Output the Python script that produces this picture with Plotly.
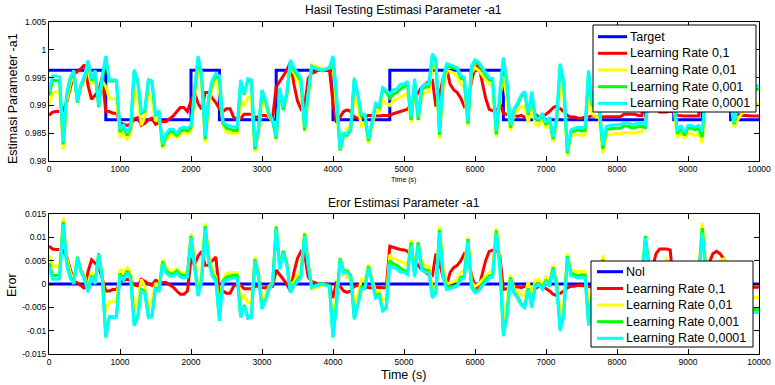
import plotly.graph_objects as go

# ---------------- data ----------------
time_s = list(range(0, 10001, 50))

target_time = [0, 800, 2000, 2400, 3200, 4000, 4800, 6400, 8400, 8800, 9200, 9600, 10000]
target_value = [0.9963, 0.9874, 0.9963, 0.9874, 0.9963, 0.9874, 0.9963, 0.9874,
                0.9963, 0.9874, 0.9963, 0.9874, 0.9874]

nol_time = [0, 10000]
nol_value = [0.0, 0.0]

series_names = ["Learning Rate 0,1", "Learning Rate 0,01", "Learning Rate 0,001", "Learning Rate 0,0001"]

est_lr_0_1 = [
    0.9882, 0.9888, 0.9889, 0.9889, 0.9891, 0.9906, 0.9931, 0.9956, 0.9961, 0.9966,
    0.9973, 0.9936, 0.9911, 0.9919, 0.9926, 0.9951, 0.9889, 0.9889, 0.9886, 0.9886,
    0.9869, 0.9866, 0.9864, 0.9866, 0.9876, 0.9878, 0.9864, 0.9868, 0.9874, 0.9877,
    0.9866, 0.9869, 0.9871, 0.9871, 0.9876, 0.9881, 0.9889, 0.9896, 0.9896, 0.9889,
    0.9908, 0.9923, 0.9903, 0.9893, 0.9923, 0.9923, 0.9913, 0.9905, 0.9894, 0.9889,
    0.9894, 0.9894, 0.9879, 0.9874, 0.9877, 0.9884, 0.9884, 0.9884, 0.9879, 0.9879,
    0.9882, 0.9882, 0.9879, 0.9879, 0.9933, 0.9943, 0.9953, 0.9963, 0.9978, 0.9938,
    0.9908, 0.9893, 0.9898, 0.9948, 0.9958, 0.9960, 0.9965, 0.9963, 0.9963, 0.9965,
    0.9904, 0.9869, 0.9879, 0.9889, 0.9892, 0.9889, 0.9879, 0.9877, 0.9877, 0.9879,
    0.9882, 0.9882, 0.9881, 0.9881, 0.9882, 0.9882, 0.9882, 0.9885, 0.9887, 0.9889,
    0.9890, 0.9893, 0.9903, 0.9913, 0.9923, 0.9933, 0.9938, 0.9943, 0.9945, 0.9898,
    0.9918, 0.9948, 0.9966, 0.9938, 0.9928, 0.9923, 0.9913, 0.9898, 0.9903, 0.9943,
    0.9968, 0.9973, 0.9943, 0.9913, 0.9893, 0.9891, 0.9888, 0.9903, 0.9886, 0.9884,
    0.9879, 0.9882, 0.9880, 0.9882, 0.9879, 0.9879, 0.9889, 0.9884, 0.9879, 0.9879,
    0.9884, 0.9889, 0.9896, 0.9899, 0.9894, 0.9889, 0.9882, 0.9879, 0.9879, 0.9877,
    0.9877, 0.9879, 0.9879, 0.9882, 0.9879, 0.9879, 0.9879, 0.9880, 0.9880, 0.9880,
    0.9880, 0.9880, 0.9884, 0.9884, 0.9884, 0.9884, 0.9882, 0.9882, 0.9933, 0.9943,
    0.9928, 0.9898, 0.9888, 0.9888, 0.9888, 0.9890, 0.9888, 0.9882, 0.9881, 0.9881,
    0.9881, 0.9881, 0.9881, 0.9881, 0.9943, 0.9943, 0.9918, 0.9898, 0.9893, 0.9898,
    0.9908, 0.9923, 0.9904, 0.9889, 0.9884, 0.9882, 0.9882, 0.9881, 0.9881, 0.9881,
    0.9881]

est_lr_0_01 = [
    0.9901, 0.9923, 0.9925, 0.9923, 0.9821, 0.9908, 0.9938, 0.9958, 0.9910, 0.9933,
    0.9945, 0.9971, 0.9938, 0.9953, 0.9903, 0.9943, 0.9934, 0.9912, 0.9912, 0.9912,
    0.9842, 0.9849, 0.9839, 0.9849, 0.9929, 0.9912, 0.9864, 0.9879, 0.9924, 0.9910,
    0.9872, 0.9879, 0.9822, 0.9839, 0.9846, 0.9846, 0.9842, 0.9849, 0.9851, 0.9849,
    0.9855, 0.9908, 0.9968, 0.9938, 0.9833, 0.9903, 0.9933, 0.9948, 0.9924, 0.9864,
    0.9852, 0.9850, 0.9850, 0.9850, 0.9909, 0.9899, 0.9914, 0.9914, 0.9816, 0.9850,
    0.9909, 0.9899, 0.9879, 0.9871, 0.9839, 0.9925, 0.9893, 0.9918, 0.9968, 0.9958,
    0.9945, 0.9931, 0.9853, 0.9913, 0.9973, 0.9971, 0.9968, 0.9966, 0.9966, 0.9968,
    0.9969, 0.9894, 0.9818, 0.9844, 0.9859, 0.9864, 0.9914, 0.9899, 0.9864, 0.9869,
    0.9832, 0.9864, 0.9890, 0.9889, 0.9909, 0.9904, 0.9900, 0.9908, 0.9911, 0.9914,
    0.9918, 0.9923, 0.9868, 0.9931, 0.9873, 0.9918, 0.9923, 0.9925, 0.9973, 0.9968,
    0.9840, 0.9928, 0.9963, 0.9961, 0.9958, 0.9953, 0.9938, 0.9933, 0.9863, 0.9958,
    0.9968, 0.9963, 0.9955, 0.9945, 0.9938, 0.9933, 0.9843, 0.9913, 0.9954, 0.9909,
    0.9854, 0.9884, 0.9890, 0.9897, 0.9899, 0.9869, 0.9899, 0.9866, 0.9864, 0.9876,
    0.9859, 0.9869, 0.9834, 0.9869, 0.9934, 0.9918, 0.9809, 0.9844, 0.9846, 0.9848,
    0.9846, 0.9847, 0.9929, 0.9884, 0.9879, 0.9879, 0.9813, 0.9846, 0.9848, 0.9849,
    0.9849, 0.9849, 0.9851, 0.9851, 0.9850, 0.9850, 0.9852, 0.9852, 0.9873, 0.9918,
    0.9923, 0.9928, 0.9933, 0.9923, 0.9910, 0.9923, 0.9899, 0.9842, 0.9849, 0.9842,
    0.9849, 0.9849, 0.9846, 0.9849, 0.9832, 0.9913, 0.9923, 0.9923, 0.9918, 0.9913,
    0.9909, 0.9918, 0.9909, 0.9860, 0.9874, 0.9884, 0.9892, 0.9897, 0.9901, 0.9903,
    0.9903]

est_lr_0_001 = [
    0.9918, 0.9945, 0.9945, 0.9943, 0.9830, 0.9918, 0.9947, 0.9961, 0.9905, 0.9935,
    0.9950, 0.9978, 0.9945, 0.9960, 0.9897, 0.9948, 0.9986, 0.9944, 0.9944, 0.9944,
    0.9852, 0.9862, 0.9846, 0.9859, 0.9961, 0.9944, 0.9886, 0.9890, 0.9944, 0.9942,
    0.9883, 0.9886, 0.9826, 0.9846, 0.9852, 0.9852, 0.9846, 0.9854, 0.9856, 0.9854,
    0.9860, 0.9920, 0.9985, 0.9953, 0.9839, 0.9913, 0.9942, 0.9953, 0.9949, 0.9868,
    0.9859, 0.9857, 0.9855, 0.9855, 0.9943, 0.9919, 0.9945, 0.9943, 0.9821, 0.9855,
    0.9926, 0.9908, 0.9883, 0.9872, 0.9840, 0.9928, 0.9892, 0.9920, 0.9979, 0.9964,
    0.9953, 0.9944, 0.9855, 0.9920, 0.9969, 0.9966, 0.9964, 0.9962, 0.9965, 0.9967,
    0.9987, 0.9914, 0.9819, 0.9847, 0.9846, 0.9856, 0.9947, 0.9919, 0.9881, 0.9881,
    0.9836, 0.9866, 0.9901, 0.9896, 0.9929, 0.9924, 0.9913, 0.9920, 0.9923, 0.9929,
    0.9934, 0.9939, 0.9874, 0.9943, 0.9874, 0.9928, 0.9933, 0.9934, 0.9990, 0.9980,
    0.9847, 0.9943, 0.9972, 0.9970, 0.9968, 0.9965, 0.9949, 0.9946, 0.9867, 0.9968,
    0.9979, 0.9975, 0.9965, 0.9954, 0.9946, 0.9943, 0.9848, 0.9921, 0.9983, 0.9940,
    0.9860, 0.9892, 0.9901, 0.9916, 0.9922, 0.9883, 0.9922, 0.9876, 0.9873, 0.9883,
    0.9865, 0.9876, 0.9839, 0.9876, 0.9972, 0.9940, 0.9814, 0.9851, 0.9854, 0.9856,
    0.9854, 0.9855, 0.9959, 0.9901, 0.9896, 0.9896, 0.9822, 0.9856, 0.9858, 0.9859,
    0.9859, 0.9859, 0.9863, 0.9863, 0.9860, 0.9860, 0.9862, 0.9862, 0.9860, 0.9923,
    0.9933, 0.9938, 0.9943, 0.9943, 0.9943, 0.9943, 0.9919, 0.9849, 0.9859, 0.9846,
    0.9859, 0.9859, 0.9856, 0.9859, 0.9843, 0.9928, 0.9938, 0.9943, 0.9938, 0.9938,
    0.9933, 0.9933, 0.9934, 0.9866, 0.9899, 0.9909, 0.9919, 0.9924, 0.9927, 0.9929,
    0.9929]

est_lr_0_0001 = [
    0.9925, 0.9953, 0.9953, 0.9951, 0.9835, 0.9923, 0.9951, 0.9963, 0.9907, 0.9938,
    0.9953, 0.9981, 0.9948, 0.9963, 0.9899, 0.9953, 0.9989, 0.9946, 0.9946, 0.9945,
    0.9856, 0.9866, 0.9850, 0.9864, 0.9964, 0.9946, 0.9889, 0.9893, 0.9946, 0.9944,
    0.9885, 0.9889, 0.9830, 0.9850, 0.9857, 0.9857, 0.9850, 0.9859, 0.9861, 0.9859,
    0.9864, 0.9924, 0.9989, 0.9957, 0.9844, 0.9917, 0.9946, 0.9957, 0.9953, 0.9871,
    0.9865, 0.9863, 0.9861, 0.9861, 0.9946, 0.9921, 0.9948, 0.9946, 0.9825, 0.9860,
    0.9928, 0.9910, 0.9885, 0.9874, 0.9844, 0.9932, 0.9896, 0.9924, 0.9982, 0.9967,
    0.9957, 0.9949, 0.9860, 0.9924, 0.9971, 0.9967, 0.9965, 0.9963, 0.9966, 0.9968,
    0.9989, 0.9918, 0.9821, 0.9850, 0.9849, 0.9859, 0.9950, 0.9921, 0.9884, 0.9884,
    0.9839, 0.9869, 0.9904, 0.9899, 0.9932, 0.9927, 0.9921, 0.9928, 0.9930, 0.9938,
    0.9938, 0.9943, 0.9879, 0.9948, 0.9879, 0.9933, 0.9938, 0.9939, 0.9993, 0.9983,
    0.9853, 0.9948, 0.9975, 0.9973, 0.9971, 0.9968, 0.9953, 0.9950, 0.9872, 0.9971,
    0.9982, 0.9978, 0.9968, 0.9958, 0.9950, 0.9948, 0.9854, 0.9925, 0.9986, 0.9943,
    0.9864, 0.9894, 0.9904, 0.9919, 0.9925, 0.9886, 0.9925, 0.9879, 0.9876, 0.9886,
    0.9869, 0.9879, 0.9843, 0.9879, 0.9975, 0.9943, 0.9818, 0.9856, 0.9859, 0.9861,
    0.9860, 0.9861, 0.9963, 0.9904, 0.9899, 0.9899, 0.9828, 0.9862, 0.9864, 0.9865,
    0.9865, 0.9865, 0.9869, 0.9869, 0.9866, 0.9866, 0.9868, 0.9868, 0.9865, 0.9928,
    0.9938, 0.9943, 0.9948, 0.9948, 0.9948, 0.9948, 0.9924, 0.9854, 0.9864, 0.9851,
    0.9864, 0.9864, 0.9861, 0.9864, 0.9853, 0.9933, 0.9943, 0.9948, 0.9948, 0.9948,
    0.9943, 0.9943, 0.9939, 0.9869, 0.9904, 0.9914, 0.9924, 0.9929, 0.9934, 0.9935,
    0.9935]

err_lr_0_1 = [
    0.0081, 0.0075, 0.0074, 0.0074, 0.0072, 0.0057, 0.0032, 0.0007, 0.0002, -0.0003,
    -0.0010, 0.0027, 0.0052, 0.0044, 0.0037, 0.0012, -0.0015, -0.0015, -0.0012, -0.0012,
    0.0005, 0.0008, 0.0010, 0.0008, -0.0002, -0.0004, 0.0010, 0.0006, 0.0000, -0.0003,
    0.0008, 0.0005, 0.0003, 0.0003, -0.0002, -0.0007, -0.0015, -0.0022, -0.0022, -0.0015,
    0.0055, 0.0040, 0.0060, 0.0070, 0.0040, 0.0040, 0.0050, 0.0058, -0.0020, -0.0015,
    -0.0020, -0.0020, -0.0005, 0.0000, -0.0003, -0.0010, -0.0010, -0.0010, -0.0005, -0.0005,
    -0.0008, -0.0008, -0.0005, -0.0005, 0.0030, 0.0020, 0.0010, 0.0000, -0.0015, 0.0025,
    0.0055, 0.0070, 0.0065, 0.0015, 0.0005, 0.0003, -0.0002, 0.0000, 0.0000, -0.0002,
    -0.0030, 0.0005, -0.0005, -0.0015, -0.0018, -0.0015, -0.0005, -0.0003, -0.0003, -0.0005,
    -0.0008, -0.0008, -0.0007, -0.0007, -0.0008, -0.0008, 0.0081, 0.0078, 0.0076, 0.0074,
    0.0073, 0.0070, 0.0060, 0.0050, 0.0040, 0.0030, 0.0025, 0.0020, 0.0018, 0.0065,
    0.0045, 0.0015, -0.0003, 0.0025, 0.0035, 0.0040, 0.0050, 0.0065, 0.0060, 0.0020,
    -0.0005, -0.0010, 0.0020, 0.0050, 0.0070, 0.0072, 0.0075, 0.0060, -0.0012, -0.0010,
    -0.0005, -0.0008, -0.0006, -0.0008, -0.0005, -0.0005, -0.0015, -0.0010, -0.0005, -0.0005,
    -0.0010, -0.0015, -0.0022, -0.0025, -0.0020, -0.0015, -0.0008, -0.0005, -0.0005, -0.0003,
    -0.0003, -0.0005, -0.0005, -0.0008, -0.0005, -0.0005, -0.0005, -0.0006, -0.0006, -0.0006,
    -0.0006, -0.0006, -0.0010, -0.0010, -0.0010, -0.0010, -0.0008, -0.0008, 0.0030, 0.0020,
    0.0035, 0.0065, 0.0075, 0.0075, 0.0075, 0.0073, -0.0014, -0.0008, -0.0007, -0.0007,
    -0.0007, -0.0007, -0.0007, -0.0007, 0.0020, 0.0020, 0.0045, 0.0065, 0.0070, 0.0065,
    0.0055, 0.0040, -0.0030, -0.0015, -0.0010, -0.0008, -0.0008, -0.0007, -0.0007, -0.0007,
    -0.0007]

err_lr_0_01 = [
    0.0062, 0.0040, 0.0038, 0.0040, 0.0142, 0.0055, 0.0025, 0.0005, 0.0053, 0.0030,
    0.0018, -0.0008, 0.0025, 0.0010, 0.0060, 0.0020, -0.0060, -0.0038, -0.0038, -0.0038,
    0.0032, 0.0025, 0.0035, 0.0025, -0.0055, -0.0038, 0.0010, -0.0005, -0.0050, -0.0036,
    0.0002, -0.0005, 0.0052, 0.0035, 0.0028, 0.0028, 0.0032, 0.0025, 0.0023, 0.0025,
    0.0108, 0.0055, -0.0005, 0.0025, 0.0130, 0.0060, 0.0030, 0.0015, -0.0050, 0.0010,
    0.0022, 0.0024, 0.0024, 0.0024, -0.0035, -0.0025, -0.0040, -0.0040, 0.0058, 0.0024,
    -0.0035, -0.0025, -0.0005, 0.0003, 0.0124, 0.0038, 0.0070, 0.0045, -0.0005, 0.0005,
    0.0018, 0.0032, 0.0110, 0.0050, -0.0010, -0.0008, -0.0005, -0.0003, -0.0003, -0.0005,
    -0.0095, -0.0020, 0.0056, 0.0030, 0.0015, 0.0010, -0.0040, -0.0025, 0.0010, 0.0005,
    0.0042, 0.0010, -0.0016, -0.0015, -0.0035, -0.0030, 0.0063, 0.0055, 0.0052, 0.0049,
    0.0045, 0.0040, 0.0095, 0.0032, 0.0090, 0.0045, 0.0040, 0.0038, -0.0010, -0.0005,
    0.0123, 0.0035, 0.0000, 0.0002, 0.0005, 0.0010, 0.0025, 0.0030, 0.0100, 0.0005,
    -0.0005, 0.0000, 0.0008, 0.0018, 0.0025, 0.0030, 0.0120, 0.0050, -0.0080, -0.0035,
    0.0020, -0.0010, -0.0016, -0.0023, -0.0025, 0.0005, -0.0025, 0.0008, 0.0010, -0.0002,
    0.0015, 0.0005, 0.0040, 0.0005, -0.0060, -0.0044, 0.0065, 0.0030, 0.0028, 0.0026,
    0.0028, 0.0027, -0.0055, -0.0010, -0.0005, -0.0005, 0.0061, 0.0028, 0.0026, 0.0025,
    0.0025, 0.0025, 0.0023, 0.0023, 0.0024, 0.0024, 0.0022, 0.0022, 0.0090, 0.0045,
    0.0040, 0.0035, 0.0030, 0.0040, 0.0053, 0.0040, -0.0025, 0.0032, 0.0025, 0.0032,
    0.0025, 0.0025, 0.0028, 0.0025, 0.0131, 0.0050, 0.0040, 0.0040, 0.0045, 0.0050,
    0.0054, 0.0045, -0.0035, 0.0014, 0.0000, -0.0010, -0.0018, -0.0023, -0.0027, -0.0029,
    -0.0029]

err_lr_0_001 = [
    0.0045, 0.0018, 0.0018, 0.0020, 0.0133, 0.0045, 0.0016, 0.0002, 0.0058, 0.0028,
    0.0013, -0.0015, 0.0018, 0.0003, 0.0066, 0.0015, -0.0112, -0.0070, -0.0070, -0.0070,
    0.0022, 0.0012, 0.0028, 0.0015, -0.0087, -0.0070, -0.0012, -0.0016, -0.0070, -0.0068,
    -0.0009, -0.0012, 0.0048, 0.0028, 0.0022, 0.0022, 0.0028, 0.0020, 0.0018, 0.0020,
    0.0103, 0.0043, -0.0022, 0.0010, 0.0124, 0.0050, 0.0021, 0.0010, -0.0075, 0.0006,
    0.0015, 0.0017, 0.0019, 0.0019, -0.0069, -0.0045, -0.0071, -0.0069, 0.0053, 0.0019,
    -0.0052, -0.0034, -0.0009, 0.0002, 0.0123, 0.0035, 0.0071, 0.0043, -0.0016, -0.0001,
    0.0010, 0.0019, 0.0108, 0.0043, -0.0006, -0.0003, -0.0001, 0.0001, -0.0002, -0.0004,
    -0.0113, -0.0040, 0.0055, 0.0027, 0.0028, 0.0018, -0.0073, -0.0045, -0.0007, -0.0007,
    0.0038, 0.0008, -0.0027, -0.0022, -0.0055, -0.0050, 0.0050, 0.0043, 0.0040, 0.0034,
    0.0029, 0.0024, 0.0089, 0.0020, 0.0089, 0.0035, 0.0030, 0.0029, -0.0027, -0.0017,
    0.0116, 0.0020, -0.0009, -0.0007, -0.0005, -0.0002, 0.0014, 0.0017, 0.0096, -0.0005,
    -0.0016, -0.0012, -0.0002, 0.0009, 0.0017, 0.0020, 0.0115, 0.0042, -0.0109, -0.0066,
    0.0014, -0.0018, -0.0027, -0.0042, -0.0048, -0.0009, -0.0048, -0.0002, 0.0001, -0.0009,
    0.0009, -0.0002, 0.0035, -0.0002, -0.0098, -0.0066, 0.0060, 0.0023, 0.0020, 0.0018,
    0.0020, 0.0019, -0.0085, -0.0027, -0.0022, -0.0022, 0.0052, 0.0018, 0.0016, 0.0015,
    0.0015, 0.0015, 0.0011, 0.0011, 0.0014, 0.0014, 0.0012, 0.0012, 0.0103, 0.0040,
    0.0030, 0.0025, 0.0020, 0.0020, 0.0020, 0.0020, -0.0045, 0.0025, 0.0015, 0.0028,
    0.0015, 0.0015, 0.0018, 0.0015, 0.0120, 0.0035, 0.0025, 0.0020, 0.0025, 0.0025,
    0.0030, 0.0030, -0.0060, 0.0008, -0.0025, -0.0035, -0.0045, -0.0050, -0.0053, -0.0055,
    -0.0055]

err_lr_0_0001 = [
    0.0038, 0.0010, 0.0010, 0.0012, 0.0128, 0.0040, 0.0012, 0.0000, 0.0056, 0.0025,
    0.0010, -0.0018, 0.0015, 0.0000, 0.0064, 0.0010, -0.0115, -0.0072, -0.0072, -0.0071,
    0.0018, 0.0008, 0.0024, 0.0010, -0.0090, -0.0072, -0.0015, -0.0019, -0.0072, -0.0070,
    -0.0011, -0.0015, 0.0044, 0.0024, 0.0017, 0.0017, 0.0024, 0.0015, 0.0013, 0.0015,
    0.0099, 0.0039, -0.0026, 0.0006, 0.0119, 0.0046, 0.0017, 0.0006, -0.0079, 0.0003,
    0.0009, 0.0011, 0.0013, 0.0013, -0.0072, -0.0047, -0.0074, -0.0072, 0.0049, 0.0014,
    -0.0054, -0.0036, -0.0011, 0.0000, 0.0119, 0.0031, 0.0067, 0.0039, -0.0019, -0.0004,
    0.0006, 0.0014, 0.0103, 0.0039, -0.0008, -0.0004, -0.0002, 0.0000, -0.0003, -0.0005,
    -0.0115, -0.0044, 0.0053, 0.0024, 0.0025, 0.0015, -0.0076, -0.0047, -0.0010, -0.0010,
    0.0035, 0.0005, -0.0030, -0.0025, -0.0058, -0.0053, 0.0042, 0.0035, 0.0033, 0.0025,
    0.0025, 0.0020, 0.0084, 0.0015, 0.0084, 0.0030, 0.0025, 0.0024, -0.0030, -0.0020,
    0.0110, 0.0015, -0.0012, -0.0010, -0.0008, -0.0005, 0.0010, 0.0013, 0.0091, -0.0008,
    -0.0019, -0.0015, -0.0005, 0.0005, 0.0013, 0.0015, 0.0109, 0.0038, -0.0112, -0.0069,
    0.0010, -0.0020, -0.0030, -0.0045, -0.0051, -0.0012, -0.0051, -0.0005, -0.0002, -0.0012,
    0.0005, -0.0005, 0.0031, -0.0005, -0.0101, -0.0069, 0.0056, 0.0018, 0.0015, 0.0013,
    0.0014, 0.0013, -0.0089, -0.0030, -0.0025, -0.0025, 0.0046, 0.0012, 0.0010, 0.0009,
    0.0009, 0.0009, 0.0005, 0.0005, 0.0008, 0.0008, 0.0006, 0.0006, 0.0098, 0.0035,
    0.0025, 0.0020, 0.0015, 0.0015, 0.0015, 0.0015, -0.0050, 0.0020, 0.0010, 0.0023,
    0.0010, 0.0010, 0.0013, 0.0010, 0.0110, 0.0030, 0.0020, 0.0015, 0.0015, 0.0015,
    0.0020, 0.0020, -0.0065, 0.0005, -0.0030, -0.0040, -0.0050, -0.0055, -0.0060, -0.0061,
    -0.0061]

x_tick_values = [0, 1000, 2000, 3000, 4000, 5000, 6000, 7000, 8000, 9000, 10000]
x_tick_labels = ["0", "1000", "2000", "3000", "4000", "5000", "6000", "7000", "8000", "9000", "10000"]
top_y_ticks = [0.98, 0.985, 0.99, 0.995, 1.0, 1.005]
top_y_labels = ["0.98", "0.985", "0.99", "0.995", "1", "1.005"]
bot_y_ticks = [-0.015, -0.01, -0.005, 0.0, 0.005, 0.01, 0.015]
bot_y_labels = ["-0.015", "-0.01", "-0.005", "0", "0.005", "0.01", "0.015"]

# ---------------- styling ----------------
W, H = 775, 385
FONT = "Liberation Sans, Arial, sans-serif"
series_colors = ["#FF0000", "#FFFF00", "#00FF00", "#00FFFF"]
BLUE = "#0000FF"
LW = 3


def px(x):
    return x / W


def py(y):
    return 1 - y / H


fig = go.Figure()

# top panel
fig.add_trace(go.Scatter(x=target_time, y=target_value, mode="lines", name="Target",
                         line=dict(color=BLUE, width=LW, shape="hv"), xaxis="x", yaxis="y"))
for name, color, est in zip(series_names, series_colors,
                            [est_lr_0_1, est_lr_0_01, est_lr_0_001, est_lr_0_0001]):
    fig.add_trace(go.Scatter(x=time_s, y=est, mode="lines", name=name,
                             line=dict(color=color, width=LW), xaxis="x", yaxis="y"))

# bottom panel
fig.add_trace(go.Scatter(x=nol_time, y=nol_value, mode="lines", name="Nol",
                         line=dict(color=BLUE, width=LW), xaxis="x2", yaxis="y2"))
for name, color, err in zip(series_names, series_colors,
                            [err_lr_0_1, err_lr_0_01, err_lr_0_001, err_lr_0_0001]):
    fig.add_trace(go.Scatter(x=time_s, y=err, mode="lines", name=name,
                             line=dict(color=color, width=LW), xaxis="x2", yaxis="y2"))

axis_common = dict(
    ticks="inside", ticklen=5, tickwidth=1, tickcolor="black",
    showline=True, linecolor="black", linewidth=1, mirror="ticks",
    showgrid=False, zeroline=False, automargin=False,
    tickfont=dict(family=FONT, size=8.5, color="black"),
)

x_dom = [px(49), px(759)]
fig.update_layout(
    width=W, height=H,
    margin=dict(l=0, r=0, t=0, b=0),
    paper_bgcolor="white", plot_bgcolor="white",
    font=dict(family=FONT, color="black"),
    showlegend=False,
    xaxis=dict(domain=x_dom, anchor="y", range=[0, 10000],
               tickvals=x_tick_values, ticktext=x_tick_labels, **axis_common),
    yaxis=dict(domain=[py(161), py(22)], anchor="x", range=[0.98, 1.005],
               tickvals=top_y_ticks, ticktext=top_y_labels, **axis_common),
    xaxis2=dict(domain=x_dom, anchor="y2", range=[0, 10000],
                tickvals=x_tick_values, ticktext=x_tick_labels, **axis_common),
    yaxis2=dict(domain=[py(354), py(214)], anchor="x2", range=[-0.015, 0.015],
                tickvals=bot_y_ticks, ticktext=bot_y_labels, **axis_common),
)

annotations = []


def text(t, x, y, size, angle=0, xanchor="center"):
    annotations.append(dict(text=t, x=px(x), y=py(y), xref="paper", yref="paper",
                            showarrow=False, xanchor=xanchor, yanchor="middle",
                            textangle=angle, font=dict(family=FONT, size=size, color="black")))


text("Hasil Testing Estimasi Parameter -a1", 404, 10, 12)
text("Eror Estimasi Parameter -a1", 404, 203, 12)
text("Estimasi Parameter -a1", 13, 99, 12.5, angle=-90)
text("Eror", 12, 285, 12.5, angle=-90)
text("Time (s)", 403, 180, 7)
text("Time (s)", 404, 375, 12.5)

shapes = []


def legend_box(x0, y0, x1, y1, names, colors, row_y, line_x0, line_x1, text_x):
    shapes.append(dict(type="rect", xref="paper", yref="paper",
                       x0=px(x0), x1=px(x1), y0=py(y1), y1=py(y0),
                       line=dict(color="black", width=1), fillcolor="white", layer="above"))
    for nm, col, ry in zip(names, colors, row_y):
        shapes.append(dict(type="line", xref="paper", yref="paper",
                           x0=px(line_x0), x1=px(line_x1), y0=py(ry), y1=py(ry),
                           line=dict(color=col, width=LW), layer="above"))
        text(nm, text_x, ry, 12.5, xanchor="left")


legend_box(593, 25, 756, 112, ["Target"] + series_names, [BLUE] + series_colors,
           [36.7, 53.3, 70.0, 86.7, 103.3], 598, 627, 628)
legend_box(591, 261, 753, 347, ["Nol"] + series_names, [BLUE] + series_colors,
           [271.7, 288.5, 305.0, 321.7, 338.3], 597, 623, 624)

fig.update_layout(annotations=annotations, shapes=shapes)

fig.write_html("out.html")
